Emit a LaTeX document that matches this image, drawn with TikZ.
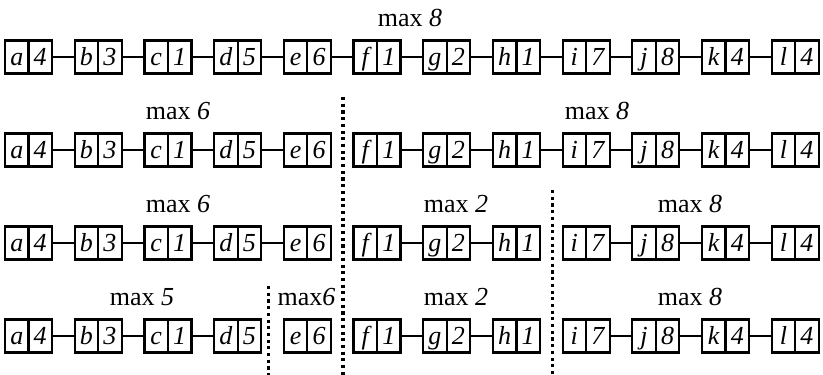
\documentclass[tikz,border=0pt]{standalone}
\usepackage{fontspec}
\setmainfont{Liberation Serif}
\begin{document}
\begin{tikzpicture}[x=1pt,y=-1pt,
  cell/.style={draw,line width=2.2pt,minimum width=23.5pt,minimum height=33pt,
    inner sep=0pt,text height=24pt,text depth=7pt,
    font=\fontsize{26}{26}\selectfont\itshape},
  link/.style={line width=1.7pt},
  sepline/.style={line width=3.1pt,dash pattern=on 3.1pt off 3.6pt},
  lab/.style={anchor=base,inner sep=0pt,font=\fontsize{26}{26}\selectfont}]
\useasboundingbox (0,0) rectangle (823,375);
% cells
\foreach \r in {0,...,3}{
  \pgfmathsetmacro{\yy}{57+93*\r}
  \foreach \L/\V [count=\i from 0] in {a/4,b/3,c/1,d/5,e/6,f/1,g/2,h/1,i/7,j/8,k/4,l/4}{
    \pgfmathsetmacro{\s}{5+69.7*\i}
    \node[cell] (c\r-\i) at (\s+11.75,\yy) {\L};
    \node[cell] (n\r-\i) at (\s+35.25,\yy) {\V};
  }
}
% links
\foreach \r/\lst in {0/{0,1,2,3,4,5,6,7,8,9,10},
                     1/{0,1,2,3,5,6,7,8,9,10},
                     2/{0,1,2,3,5,6,8,9,10},
                     3/{0,1,2,5,6,8,9,10}}{
  \foreach \i in \lst{
    \pgfmathtruncatemacro{\j}{\i+1}
    \draw[link] (n\r-\i.east) -- (c\r-\j.west);
  }
}
% separators
\coordinate (s1t) at (343,97);
\coordinate (s1b) at (343,375);
\coordinate (s2t) at (552.5,190);
\coordinate (s2b) at (552.5,375);
\coordinate (s3t) at (268.5,286);
\coordinate (s3b) at (268.5,375);
\draw[sepline] (s1t) -- (s1b);
\draw[sepline] (s2t) -- (s2b);
\draw[sepline] (s3t) -- (s3b);
% labels
\node[lab] (l0) at (410,26.5) {max \textit{8}};
\node[lab] (l1a) at (178,119.5) {max \textit{6}};
\node[lab] (l1b) at (597,119.5) {max \textit{8}};
\node[lab] (l2a) at (178,212.5) {max \textit{6}};
\node[lab] (l2b) at (456,212.5) {max \textit{2}};
\node[lab] (l2c) at (690,212.5) {max \textit{8}};
\node[lab] (l3a) at (142,305.5) {max \textit{5}};
\node[lab] (l3b) at (306.5,305.5) {max\textit{6}};
\node[lab] (l3c) at (456,305.5) {max \textit{2}};
\node[lab] (l3d) at (690,305.5) {max \textit{8}};
\end{tikzpicture}
\end{document}
